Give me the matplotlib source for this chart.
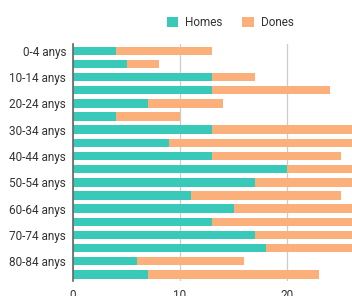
import matplotlib.pyplot as plt

# age groups, top to bottom
groups = ["0-4 anys", "5-9 anys", "10-14 anys", "15-19 anys", "20-24 anys",
          "25-29 anys", "30-34 anys", "35-39 anys", "40-44 anys", "45-49 anys",
          "50-54 anys", "55-59 anys", "60-64 anys", "65-69 anys", "70-74 anys",
          "75-79 anys", "80-84 anys", "85+ anys"]
homes = [4, 5, 13, 13, 7, 4, 13, 9, 13, 20, 17, 11, 15, 13, 17, 18, 6, 7]
dones = [9, 3, 4, 11, 7, 6, 15, 19, 12, 10, 12, 14, 13, 16, 12, 9, 10, 16]
x_ticks = [0, 10, 20, 30]

TEAL = "#38c9b9"
ORANGE = "#fbaf7a"

plt.rcParams["font.family"] = ["Roboto", "DejaVu Sans"]

fig = plt.figure(figsize=(3.52, 2.96), dpi=100)
ax = fig.add_axes([0.2074, 0.0507, 0.912, 0.800])

pos = list(range(len(groups)))
ax.barh(pos, homes, height=0.64, color=TEAL, label="Homes", zorder=3)
ax.barh(pos, dones, left=homes, height=0.64, color=ORANGE, label="Dones", zorder=3)

ax.set_ylim(len(groups) - 0.5, -0.5)
ax.set_xlim(0, 30)
ax.set_yticks(pos)
ax.set_yticklabels([g if i % 2 == 0 else "" for i, g in enumerate(groups)])
ax.set_xticks(x_ticks)
ax.tick_params(axis="both", length=0, labelsize=8.5, colors="#333333")
ax.tick_params(axis="x", pad=6)
ax.tick_params(axis="y", pad=5)

ax.grid(axis="x", color="#cccccc", linewidth=0.9, zorder=0)
for side in ["top", "right", "bottom"]:
    ax.spines[side].set_visible(False)
ax.spines["left"].set_color("#666666")
ax.spines["left"].set_linewidth(1.2)
ax.spines["left"].set_zorder(4)

fig.legend(loc="center", bbox_to_anchor=(230 / 352, 1 - 22.5 / 296), ncol=2,
           frameon=False, fontsize=8.5, handlelength=1.0, handleheight=1.0,
           columnspacing=1.6, handletextpad=0.6, labelcolor="#333333")

fig.savefig("out.png", dpi=100)
